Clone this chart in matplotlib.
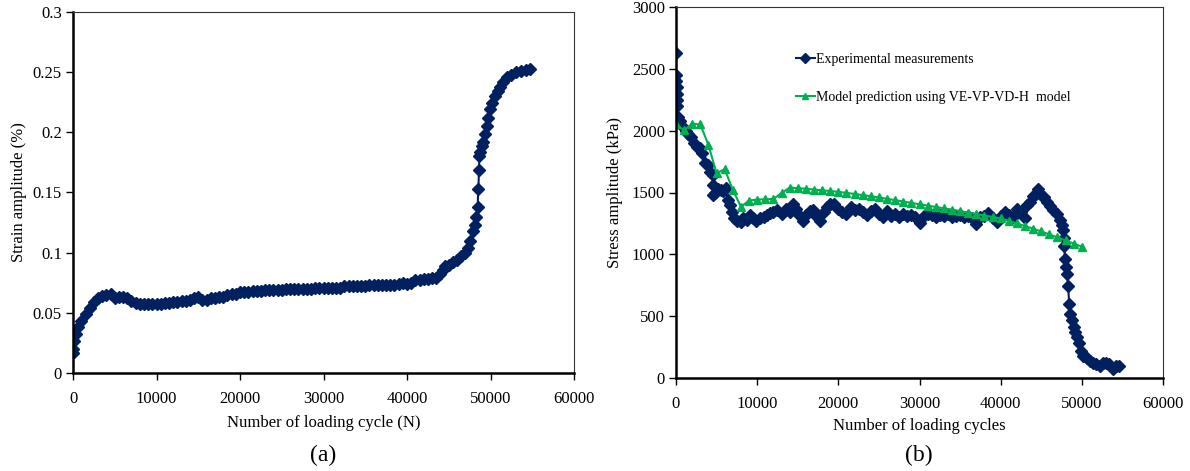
import numpy as np
import matplotlib.pyplot as plt

plt.rcParams['font.family'] = ['Liberation Serif', 'DejaVu Serif']

# (a) strain amplitude vs number of loading cycles
strain_n = [0, 0, 100, 300, 600, 1000, 1500, 2000, 2500, 3000, 3500, 4000, 4500, 5000, 5500,
            6000, 6500, 7000, 7500, 8000, 8500, 9000, 9500, 10000, 10500, 11000, 11500, 12000,
            12500, 13000, 13500, 14000, 14500, 15000, 15500, 16000, 16500, 17000, 17500, 18000,
            18500, 19000, 19500, 20000, 20500, 21000, 21500, 22000, 22500, 23000, 23500, 24000,
            24500, 25000, 25500, 26000, 26500, 27000, 27500, 28000, 28500, 29000, 29500, 30000,
            30500, 31000, 31500, 32000, 32500, 33000, 33500, 34000, 34500, 35000, 35500, 36000,
            36500, 37000, 37500, 38000, 38500, 39000, 39500, 40000, 40500, 41000, 41500, 42000,
            42500, 43000, 43500, 44000, 44300, 44600, 45000, 45500, 46000, 46500, 47000, 47300,
            47600, 47900, 48100, 48300, 48450, 48550, 48620, 48660, 48800, 49000, 49150, 49350,
            49550, 49750, 49950, 50200, 50550, 50850, 51150, 51500, 51950, 52400, 53100, 53600,
            54200, 54700]
strain_pct = [0.017, 0.020, 0.027, 0.032, 0.038, 0.043, 0.049, 0.054, 0.059, 0.062, 0.064,
              0.065, 0.066, 0.062, 0.063, 0.063, 0.062, 0.060, 0.058, 0.057, 0.057, 0.057, 0.057,
              0.057, 0.0575, 0.058, 0.058, 0.059, 0.059, 0.060, 0.060, 0.061, 0.062, 0.063, 0.061,
              0.061, 0.062, 0.062, 0.063, 0.063, 0.065, 0.066, 0.066, 0.067, 0.067, 0.067, 0.068,
              0.068, 0.068, 0.069, 0.069, 0.069, 0.069, 0.069, 0.070, 0.070, 0.070, 0.070, 0.070,
              0.070, 0.070, 0.071, 0.071, 0.071, 0.071, 0.071, 0.071, 0.071, 0.072, 0.072, 0.072,
              0.072, 0.072, 0.072, 0.073, 0.073, 0.073, 0.073, 0.073, 0.073, 0.073, 0.074, 0.075,
              0.074, 0.075, 0.077, 0.077, 0.078, 0.078, 0.079, 0.079, 0.082, 0.086, 0.089, 0.090,
              0.092, 0.094, 0.097, 0.100, 0.104, 0.110, 0.118, 0.123, 0.130, 0.138, 0.153, 0.169,
              0.180, 0.184, 0.189, 0.192, 0.199, 0.205, 0.212, 0.219, 0.224, 0.230, 0.234, 0.238,
              0.242, 0.246, 0.248, 0.250, 0.251, 0.252, 0.253]

# (b) stress amplitude: experiment
exp_n = [0, 0, 50, 80, 100, 120, 150, 250, 500, 900, 1200, 1500, 1900, 2200, 2550, 2900, 3200,
         3600, 3900, 4200, 4500, 4550, 4600, 4800, 5200, 5500, 5800, 6100, 6400, 6700, 6900,
         7200, 7500, 8000, 8300, 8700, 9100, 9500, 9900, 10300, 10800, 11200, 11600, 12000,
         12500, 13000, 13500, 14000, 14400, 14800, 15200, 15600, 16000, 16500, 16900, 17300,
         17700, 18200, 18600, 19000, 19500, 20000, 20500, 21000, 21500, 22000, 22500, 23000,
         23500, 24000, 24500, 25000, 25500, 26000, 26500, 27000, 27500, 28000, 28500, 29000,
         29500, 30000, 30500, 31000, 31500, 32000, 32500, 33000, 33500, 34000, 34500, 35000,
         35500, 36000, 36500, 37000, 37500, 38000, 38500, 39000, 39500, 40000, 40500, 41000,
         41500, 42000, 42500, 43000, 43300, 43600, 44000, 44300, 44600, 45000, 45300, 45700,
         46100, 46500, 47000, 47300, 47500, 47700, 47800, 47850, 47900, 48000, 48200, 48300,
         48450, 48600, 48800, 49000, 49200, 49400, 49600, 49900, 50200, 50600, 51000, 51400,
         51800, 52200, 52600, 53000, 53400, 53800, 54200, 54600]
exp_kpa = [2632, 2450, 2400, 2350, 2300, 2250, 2200, 2110, 2080, 2030, 2000, 1975, 1950, 1900,
           1870, 1860, 1820, 1740, 1720, 1665, 1640, 1560, 1480, 1500, 1530, 1520, 1510, 1540,
           1440, 1400, 1340, 1290, 1270, 1265, 1290, 1280, 1320, 1290, 1270, 1290, 1300, 1320,
           1335, 1340, 1360, 1330, 1370, 1340, 1410, 1370, 1320, 1270, 1320, 1350, 1362, 1310,
           1270, 1340, 1380, 1410, 1405, 1370, 1340, 1330, 1380, 1360, 1370, 1340, 1320, 1350,
           1370, 1330, 1300, 1350, 1310, 1330, 1300, 1330, 1310, 1320, 1300, 1250, 1310, 1330,
           1320, 1300, 1320, 1310, 1330, 1300, 1310, 1320, 1300, 1310, 1290, 1245, 1300, 1310,
           1335, 1290, 1265, 1310, 1345, 1320, 1300, 1370, 1340, 1290, 1400, 1420, 1470, 1490,
           1530, 1480, 1460, 1420, 1390, 1360, 1330, 1280, 1240, 1200, 1130, 1070, 960, 900,
           837, 745, 600, 520, 470, 410, 370, 330, 280, 220, 180, 160, 140, 120, 110, 100, 120,
           120, 110, 75, 95, 100]

# (b) stress amplitude: VE-VP-VD-H model
model_n = [0, 1000, 2000, 3000, 4000, 5000, 6000, 7000, 8000, 9000, 10000, 11000, 12000, 13000,
           14000, 15000, 16000, 17000, 18000, 19000, 20000, 21000, 22000, 23000, 24000, 25000,
           26000, 27000, 28000, 29000, 30000, 31000, 32000, 33000, 34000, 35000, 36000, 37000,
           38000, 39000, 40000, 41000, 42000, 43000, 44000, 45000, 46000, 47000, 48000, 49000,
           50000]
model_kpa = [2050, 2005, 2056, 2050, 1884, 1654, 1690, 1520, 1385, 1435, 1443, 1445, 1448, 1495,
             1540, 1535, 1530, 1524, 1518, 1512, 1505, 1497, 1488, 1479, 1470, 1460, 1449, 1438,
             1427, 1416, 1405, 1394, 1383, 1372, 1361, 1350, 1338, 1326, 1314, 1302, 1290, 1270,
             1250, 1229, 1207, 1185, 1161, 1137, 1112, 1087, 1062]

navy = '#002060'
green = '#00B050'

fig = plt.figure(figsize=(11.9, 4.71), dpi=100)
ax1 = fig.add_axes([73/1190, 1-373/471, 501/1190, 361/471])
ax2 = fig.add_axes([676/1190, 1-378/471, 487/1190, 371/471])

ax1.plot(strain_n, strain_pct, color=navy, marker='D', markersize=6, linewidth=1.5)
ax1.set_xlim(0, 60000)
ax1.set_ylim(0, 0.3)
ax1.set_yticks([0, 0.05, 0.1, 0.15, 0.2, 0.25, 0.3])
ax1.set_yticklabels(['0', '0.05', '0.1', '0.15', '0.2', '0.25', '0.3'])
ax1.set_xlabel('Number of loading cycle (N)', fontsize=12, labelpad=6)
ax1.set_ylabel('Strain amplitude (%)', fontsize=12, labelpad=4)

ax2.plot(exp_n, exp_kpa, color=navy, marker='D', markersize=6.5, linewidth=1.5,
         label='Experimental measurements')
ax2.plot(model_n, model_kpa, color=green, marker='^', markersize=6, linewidth=1.5,
         label='Model prediction using VE-VP-VD-H  model')
ax2.set_xlim(0, 60000)
ax2.set_ylim(0, 3000)
ax2.set_yticks([0, 500, 1000, 1500, 2000, 2500, 3000])
ax2.set_xlabel('Number of loading cycles', fontsize=12, labelpad=4)
ax2.set_ylabel('Stress amplitude (kPa)', fontsize=12, labelpad=6)
ax2.legend(loc='upper left', bbox_to_anchor=(0.22, 0.91), frameon=False, fontsize=10,
           handlelength=1.4, handletextpad=0.1, labelspacing=1.8, markerscale=0.8)

for ax in (ax1, ax2):
    ax.set_xticks([0, 10000, 20000, 30000, 40000, 50000, 60000])
    ax.tick_params(direction='out', length=5, width=1, labelsize=12)
    ax.tick_params(axis='x', pad=8)
    ax.tick_params(axis='y', pad=3)
    ax.spines['left'].set_linewidth(1.8)
    ax.spines['bottom'].set_linewidth(1.8)
    ax.spines['top'].set_linewidth(0.8)
    ax.spines['right'].set_linewidth(0.8)
    ax.spines['top'].set_color('#333333')
    ax.spines['right'].set_color('#333333')

fig.text(323/1190, 1-455/471, '(a)', ha='center', va='center', fontsize=17)
fig.text(919/1190, 1-455/471, '(b)', ha='center', va='center', fontsize=17)

fig.savefig('out.png', dpi=100)
